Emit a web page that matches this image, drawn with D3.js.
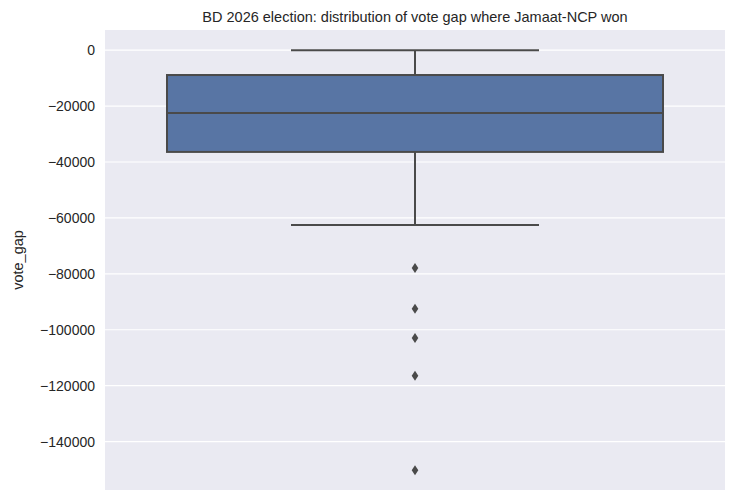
<!DOCTYPE html>
<html><head><meta charset="utf-8">
<script src="https://cdn.jsdelivr.net/npm/d3@7"></script>
<style>body{margin:0;background:#fff;font-family:"Liberation Sans",Arial,sans-serif}</style>
</head><body>
<script>
// box statistics
var boxStats = {q1: -36400, median: -22500, q3: -8900, whiskerLow: -62500, whiskerHigh: 0};
var outliers = [-77900, -92500, -102900, -116400, -150200];
var yTicks = [0, -20000, -40000, -60000, -80000, -100000, -120000, -140000];

(function(){
var width = 733, height = 502,
    plotLeft = 105, plotRight = 725, plotTop = 30, plotBottom = 490;

var svg = d3.select("body").append("svg").attr("width", width).attr("height", height);

var y = d3.scaleLinear().domain([-157300, 7200]).range([plotBottom, plotTop]);
var x = d3.scaleBand().domain(["all"]).range([plotLeft, plotRight]);

svg.append("rect").attr("x", plotLeft).attr("y", plotTop).attr("width", plotRight - plotLeft).attr("height", plotBottom - plotTop).attr("fill", "#EAEAF2");

//gridlines
svg.selectAll(".grid").data(yTicks).enter().append("line")
    .attr("x1", plotLeft).attr("x2", plotRight)
    .attr("y1", function(d){ return y(d); }).attr("y2", function(d){ return y(d); })
    .attr("stroke", "#fff").attr("stroke-width", 1.2);

var yAxis = svg.append("g").attr("transform", "translate(" + plotLeft + ",0)")
    .call(d3.axisLeft(y).tickValues(yTicks).tickSize(0).tickPadding(10).tickFormat(d3.format("d")));
yAxis.select(".domain").remove();
yAxis.selectAll("text").attr("font-size", 14).attr("fill", "#262626").attr("font-family", "Liberation Sans, Arial, sans-serif");

var cx = x("all") + x.bandwidth() / 2,
    bw = x.bandwidth() * 0.8,
    line = "#4a4a4a";

//whiskers
svg.append("line").attr("x1", cx).attr("x2", cx).attr("y1", y(boxStats.whiskerHigh)).attr("y2", y(boxStats.q3)).attr("stroke", line).attr("stroke-width", 2);
svg.append("line").attr("x1", cx).attr("x2", cx).attr("y1", y(boxStats.q1)).attr("y2", y(boxStats.whiskerLow)).attr("stroke", line).attr("stroke-width", 2);
[boxStats.whiskerHigh, boxStats.whiskerLow].forEach(function(v){
    svg.append("line").attr("x1", cx - bw / 4).attr("x2", cx + bw / 4).attr("y1", y(v)).attr("y2", y(v)).attr("stroke", line).attr("stroke-width", 2);
});

//box
svg.append("rect").attr("x", cx - bw / 2).attr("width", bw)
    .attr("y", y(boxStats.q3)).attr("height", y(boxStats.q1) - y(boxStats.q3))
    .attr("fill", "#5875A4").attr("stroke", line).attr("stroke-width", 2);
svg.append("line").attr("x1", cx - bw / 2).attr("x2", cx + bw / 2).attr("y1", y(boxStats.median)).attr("y2", y(boxStats.median)).attr("stroke", line).attr("stroke-width", 2);

//outliers
svg.selectAll(".flier").data(outliers).enter().append("path")
    .attr("transform", function(d){ return "translate(" + cx + "," + y(d) + ")"; })
    .attr("d", "M0,-5L3.3,0L0,5L-3.3,0Z").attr("fill", line);

svg.append("text").attr("x", (plotLeft + plotRight) / 2).attr("y", 22).attr("text-anchor", "middle")
    .attr("font-size", 14.5).attr("fill", "#262626").text("BD 2026 election: distribution of vote gap where Jamaat-NCP won");

svg.append("text").attr("transform", "translate(23," + ((plotTop + plotBottom) / 2) + ") rotate(-90)")
    .attr("text-anchor", "middle").attr("font-size", 14.5).attr("fill", "#262626").text("vote_gap");
})();
</script>
</body></html>
